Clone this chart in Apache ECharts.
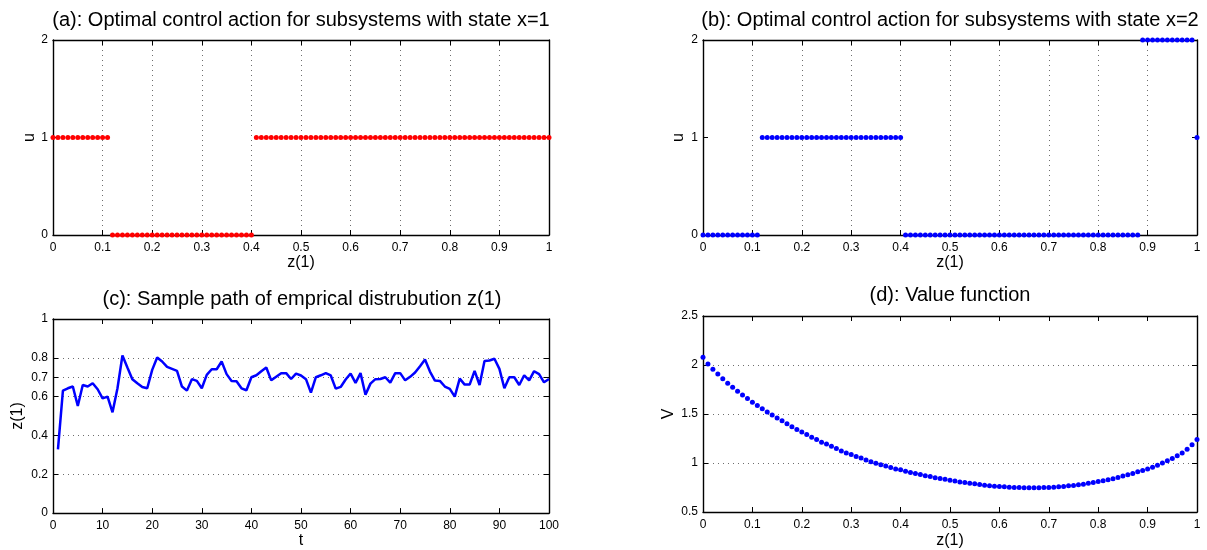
<!DOCTYPE html>
<html>
<head>
<meta charset="utf-8">
<script src="https://cdn.jsdelivr.net/npm/echarts@6/dist/echarts.min.js"></script>
<style>
html,body{margin:0;padding:0;background:#fff;}
#chart{width:1207px;height:550px;}
</style>
</head>
<body>
<div id="chart"></div>
<script>
// ---- data ----
const zGrid = [0,0.01,0.02,0.03,0.04,0.05,0.06,0.07,0.08,0.09,
  0.1,0.11,0.12,0.13,0.14,0.15,0.16,0.17,0.18,0.19,
  0.2,0.21,0.22,0.23,0.24,0.25,0.26,0.27,0.28,0.29,
  0.3,0.31,0.32,0.33,0.34,0.35,0.36,0.37,0.38,0.39,
  0.4,0.41,0.42,0.43,0.44,0.45,0.46,0.47,0.48,0.49,
  0.5,0.51,0.52,0.53,0.54,0.55,0.56,0.57,0.58,0.59,
  0.6,0.61,0.62,0.63,0.64,0.65,0.66,0.67,0.68,0.69,
  0.7,0.71,0.72,0.73,0.74,0.75,0.76,0.77,0.78,0.79,
  0.8,0.81,0.82,0.83,0.84,0.85,0.86,0.87,0.88,0.89,
  0.9,0.91,0.92,0.93,0.94,0.95,0.96,0.97,0.98,0.99,1];

const uState1 = [1,1,1,1,1,1,1,1,1,1,
  1,1,0,0,0,0,0,0,0,0,
  0,0,0,0,0,0,0,0,0,0,
  0,0,0,0,0,0,0,0,0,0,
  0,1,1,1,1,1,1,1,1,1,
  1,1,1,1,1,1,1,1,1,1,
  1,1,1,1,1,1,1,1,1,1,
  1,1,1,1,1,1,1,1,1,1,
  1,1,1,1,1,1,1,1,1,1,
  1,1,1,1,1,1,1,1,1,1,1];

const uState2 = [0,0,0,0,0,0,0,0,0,0,
  0,0,1,1,1,1,1,1,1,1,
  1,1,1,1,1,1,1,1,1,1,
  1,1,1,1,1,1,1,1,1,1,
  1,0,0,0,0,0,0,0,0,0,
  0,0,0,0,0,0,0,0,0,0,
  0,0,0,0,0,0,0,0,0,0,
  0,0,0,0,0,0,0,0,0,0,
  0,0,0,0,0,0,0,0,0,2,
  2,2,2,2,2,2,2,2,2,2,1];

const valueV = [2.08,2.01,1.957,1.907,1.86,1.813,1.773,1.733,1.693,1.657,
  1.62,1.587,1.553,1.52,1.49,1.46,1.43,1.40,1.37,1.343,
  1.317,1.29,1.263,1.24,1.213,1.193,1.17,1.147,1.123,1.103,
  1.087,1.067,1.05,1.03,1.013,0.997,0.983,0.97,0.953,0.94,
  0.93,0.917,0.903,0.893,0.883,0.87,0.863,0.85,0.843,0.833,
  0.823,0.817,0.807,0.80,0.793,0.787,0.78,0.773,0.767,0.763,
  0.76,0.757,0.753,0.75,0.75,0.747,0.747,0.747,0.747,0.75,
  0.75,0.753,0.757,0.76,0.767,0.77,0.777,0.783,0.793,0.80,
  0.81,0.82,0.83,0.84,0.853,0.867,0.88,0.893,0.91,0.923,
  0.94,0.957,0.977,1.0,1.023,1.047,1.073,1.103,1.14,1.187,1.24];

const tSteps = [1,2,3,4,5,6,7,8,9,10,11,12,13,14,15,16,17,18,19,20,
  21,22,23,24,25,26,27,28,29,30,31,32,33,34,35,36,37,38,39,40,
  41,42,43,44,45,46,47,48,49,50,51,52,53,54,55,56,57,58,59,60,
  61,62,63,64,65,66,67,68,69,70,71,72,73,74,75,76,77,78,79,80,
  81,82,83,84,85,86,87,88,89,90,91,92,93,94,95,96,97,98,99,100];

const zPath = [0.328,0.631,0.643,0.652,0.552,0.66,0.652,0.669,0.638,0.591,
  0.60,0.519,0.643,0.812,0.75,0.69,0.669,0.65,0.643,0.738,
  0.802,0.781,0.753,0.743,0.733,0.652,0.631,0.69,0.681,0.643,
  0.712,0.741,0.741,0.781,0.716,0.681,0.679,0.643,0.633,0.70,
  0.71,0.731,0.75,0.684,0.703,0.721,0.721,0.691,0.719,0.709,
  0.69,0.621,0.70,0.71,0.721,0.709,0.641,0.65,0.688,0.719,
  0.671,0.721,0.61,0.667,0.69,0.691,0.70,0.672,0.721,0.721,
  0.684,0.702,0.724,0.757,0.791,0.729,0.683,0.681,0.652,0.64,
  0.60,0.693,0.662,0.662,0.733,0.66,0.784,0.786,0.795,0.743,
  0.643,0.70,0.70,0.66,0.71,0.684,0.731,0.716,0.674,0.691];

const yTicksC = [0,0.2,0.4,0.6,0.7,0.8,1];

const titles = [
  '(a): Optimal control action for subsystems with state x=1',
  '(b): Optimal control action for subsystems with state x=2',
  '(c): Sample path of emprical distrubution z(1)',
  '(d): Value function'
];

// ---- layout / style ----
const FONT = '"Liberation Sans", Arial, Helvetica, sans-serif';
const grids = [
  {left:53, top:40, width:496, height:195},
  {left:703, top:40, width:494, height:195},
  {left:53, top:319, width:496, height:196},
  {left:703, top:316, width:494, height:200}
];
const dotted = {show:true, lineStyle:{color:'#6e6e6e', width:1, type:[1,4]}};
const noSplit = {show:false};
const AXW = 1.4;

function xPair(gi, cfg) {
  const base = {
    type:'value', gridIndex:gi, min:cfg.min, max:cfg.max, interval:cfg.interval,
    axisLine:{show:true, onZero:false, lineStyle:{color:'#000', width:AXW}},
    axisTick:{show:true, inside:true, length:5, lineStyle:{color:'#000'}}
  };
  return [
    Object.assign({}, base, {
      position:'bottom', name:cfg.name, nameLocation:'middle', nameGap:cfg.nameGap,
      nameTextStyle:{color:'#000', fontSize:16, fontFamily:FONT},
      axisLabel:{color:'#000', fontSize:12, fontFamily:FONT, margin:7},
      splitLine: cfg.grid ? dotted : noSplit
    }),
    Object.assign({}, base, {position:'top', axisLabel:{show:false}, splitLine:noSplit})
  ];
}
function yPair(gi, cfg) {
  const tick = {show:true, inside:true, length:5, lineStyle:{color:'#000'}};
  const lab = {color:'#000', fontSize:12, fontFamily:FONT, margin:5};
  if (cfg.custom) { tick.customValues = cfg.custom; lab.customValues = cfg.custom; }
  const base = {
    type:'value', gridIndex:gi, min:cfg.min, max:cfg.max,
    axisLine:{show:true, onZero:false, lineStyle:{color:'#000', width:AXW}},
    axisTick:tick
  };
  if (cfg.interval) base.interval = cfg.interval;
  return [
    Object.assign({}, base, {
      position:'left', name:cfg.name, nameLocation:'middle', nameGap:cfg.nameGap,
      nameTextStyle:{color:'#000', fontSize:16, fontFamily:FONT},
      axisLabel:lab,
      splitLine: cfg.grid ? dotted : noSplit
    }),
    Object.assign({}, base, {position:'right', axisLabel:{show:false}, splitLine:noSplit})
  ];
}

const xAxes = [].concat(
  xPair(0, {min:0, max:1, interval:0.1, name:'z(1)', nameGap:19, grid:true}),
  xPair(1, {min:0, max:1, interval:0.1, name:'z(1)', nameGap:19, grid:true}),
  xPair(2, {min:0, max:100, interval:10, name:'t', nameGap:19, grid:false}),
  xPair(3, {min:0, max:1, interval:0.1, name:'z(1)', nameGap:21, grid:false})
);
const yAxes = [].concat(
  yPair(0, {min:0, max:2, interval:1, name:'u', nameGap:15, grid:false}),
  yPair(1, {min:0, max:2, interval:1, name:'u', nameGap:16, grid:false}),
  yPair(2, {min:0, max:1, custom:yTicksC, name:'z(1)', nameGap:27, grid:true}),
  yPair(3, {min:0.5, max:2.5, interval:0.5, name:'V', nameGap:26, grid:true})
);

const titleCenters = [[301,10],[950,10],[302,289],[950,285]];

const option = {
  animation:false,
  backgroundColor:'#fff',
  title: titles.map((t,i)=>({
    text:t, left:titleCenters[i][0], top:titleCenters[i][1], textAlign:'center', padding:0,
    textStyle:{color:'#000', fontSize:20, fontWeight:'normal', fontFamily:FONT}
  })),
  grid: grids.map(g=>Object.assign({containLabel:false, show:false}, g)),
  xAxis: xAxes,
  yAxis: yAxes,
  series: [
    {type:'scatter', xAxisIndex:0, yAxisIndex:0, clip:false, symbol:'circle', symbolSize:5,
     itemStyle:{color:'#ff0000', opacity:1}, data: zGrid.map((z,i)=>[z, uState1[i]])},
    {type:'scatter', xAxisIndex:2, yAxisIndex:2, clip:false, symbol:'circle', symbolSize:5,
     itemStyle:{color:'#0000ff', opacity:1}, data: zGrid.map((z,i)=>[z, uState2[i]])},
    {type:'line', xAxisIndex:4, yAxisIndex:4, showSymbol:false, symbol:'none',
     lineStyle:{color:'#0000ff', width:2.5}, itemStyle:{color:'#0000ff'},
     data: tSteps.map((t,i)=>[t, zPath[i]])},
    {type:'scatter', xAxisIndex:6, yAxisIndex:6, clip:false, symbol:'circle', symbolSize:5,
     itemStyle:{color:'#0000ff', opacity:1}, data: zGrid.map((z,i)=>[z, valueV[i]])}
  ]
};
const chart = echarts.init(document.getElementById('chart'), null, {renderer:'canvas'});
chart.setOption(option);
</script>
</body>
</html>
